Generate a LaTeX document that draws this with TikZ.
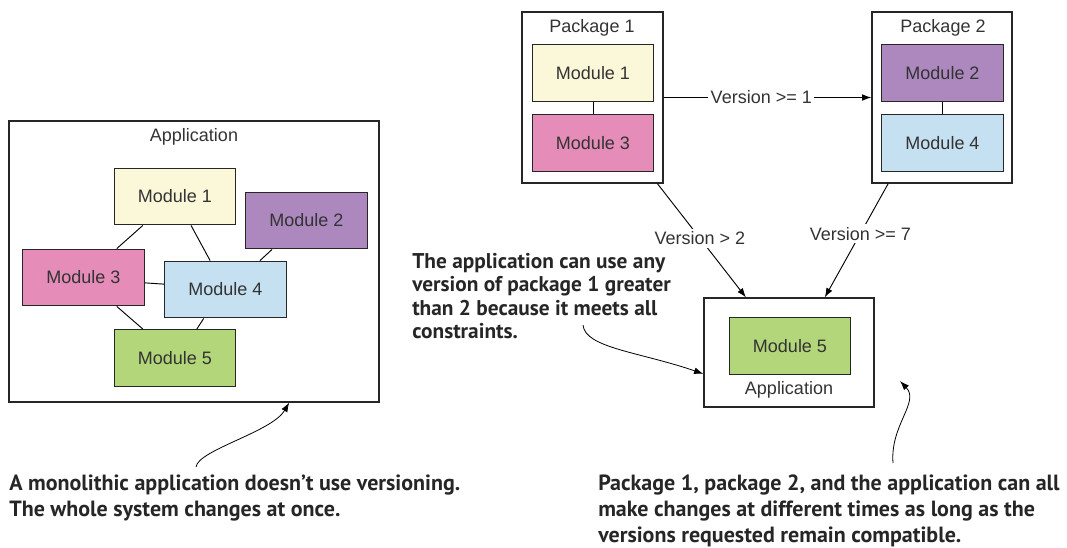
\documentclass[tikz,border=0pt]{standalone}
\usepackage{fontspec}
\setmainfont{Liberation Sans}
\newfontfamily\notefont{PT Sans}
\usetikzlibrary{arrows.meta, positioning}

\definecolor{inkgray}{HTML}{333333}
\definecolor{modyellow}{HTML}{FBF8DA}
\definecolor{modpurple}{HTML}{AC88BE}
\definecolor{modpink}{HTML}{E58CB8}
\definecolor{modblue}{HTML}{C5E1F1}
\definecolor{modgreen}{HTML}{B3D67A}

\begin{document}
\begin{tikzpicture}[
    x=0.75pt, y=-0.75pt,
    >={Latex[length=7pt,width=5pt]},
    font=\fontsize{13.5}{16}\selectfont,
    text=inkgray,
    module/.style={draw=black!85, line width=0.9pt, minimum width=91pt, minimum height=42.5pt},
    frame/.style={draw=black!85, line width=0.9pt},
    link/.style={draw=black, line width=0.7pt},
    version/.style={fill=white, inner sep=2pt},
    note/.style={align=left, anchor=north west, inner sep=0pt, text=black!85,
                 font=\notefont\bfseries\fontsize{16.5}{19.5}\selectfont},
]
    \useasboundingbox (0,0) rectangle (1067,547);

    % monolith
    \node[frame, minimum width=277.5pt, minimum height=210.75pt] (app) at (194,261.5) {};
    \node (app label) at (194,137) {Application};

    \node[module, fill=modyellow] (m1) at (175,196.5) {Module 1};
    \node[module, fill=modpurple] (m2) at (306.5,220.5) {Module 2};
    \node[module, fill=modpink]   (m3) at (83.5,277.5) {Module 3};
    \node[module, fill=modblue]   (m4) at (225.5,289.5) {Module 4};
    \node[module, fill=modgreen]  (m5) at (175,358) {Module 5};

    \path[link]
        (m1.222) edge (m3.41)
        (m1.299) edge (m4.118)
        (m2.220) edge (m4.40)
        (m3.355) edge (m4.175)
        (m3.319) edge (m5.138)
        (m4.233) edge (m5.53)
    ;

    % packages
    \node[frame, minimum width=105.75pt, minimum height=128.25pt] (pkg1) at (592.5,97.5) {};
    \node[frame, minimum width=105pt, minimum height=128.25pt]    (pkg2) at (942,97.5) {};
    \node (pkg1 label) at (592,28) {Package 1};
    \node (pkg2 label) at (943,28) {Package 2};

    \node[module, fill=modyellow] (p1m1) at (593,73) {Module 1};
    \node[module, fill=modpink, below=9pt of p1m1]   (p1m3) {Module 3};
    \node[module, fill=modpurple] (p2m2) at (942.5,73) {Module 2};
    \node[module, fill=modblue, below=9pt of p2m2]   (p2m4) {Module 4};

    \node[frame, minimum width=127.5pt, minimum height=81.75pt] (app2) at (789,352.5) {};
    \node[module, fill=modgreen] (a2m5) at (790,346) {Module 5};
    \node (app2 label) at (789,390) {Application};

    \path[link]
        (p1m1) edge (p1m3)
        (p2m2) edge (p2m4)
    ;

    \draw[->, link] (pkg1.east) -- node[version, pos=0.47] {Version >= 1} (pkg2.west);
    \draw[->, link] (pkg1.307) -- node[version, pos=0.48] {Version > 2} (app2.128);
    \draw[->, link] (pkg2.238) -- node[version, pos=0.44] {Version >= 7} (app2.57);

    % notes
    \node[note] (note mono) at (9,475)
        {A monolithic application doesn’t use versioning.\\The whole system changes at once.};
    \node[note, font=\notefont\bfseries\fontsize{16}{17.5}\selectfont] (note any) at (412,253)
        {The application can use any\\version of package 1 greater\\than 2 because it meets all\\constraints.};
    \node[note] (note time) at (598,475)
        {Package 1, package 2, and the application can all\\make changes at different times as long as the\\versions requested remain compatible.};

    \coordinate (mono tail) at (196,467);
    \coordinate (any tail)  at (583,325);
    \coordinate (time tail) at (893,463);
    \coordinate (time tip)  at (900,381);

    \draw[->, link, line width=0.6pt] (mono tail) .. controls (198,450) and (272,432) .. (app.304);
    \draw[->, link, line width=0.6pt] (any tail) .. controls (585,348) and (640,352) .. (app2.194);
    \draw[->, link, line width=0.6pt] (time tail) .. controls (890,425) and (920,402) .. (time tip);
\end{tikzpicture}
\end{document}
